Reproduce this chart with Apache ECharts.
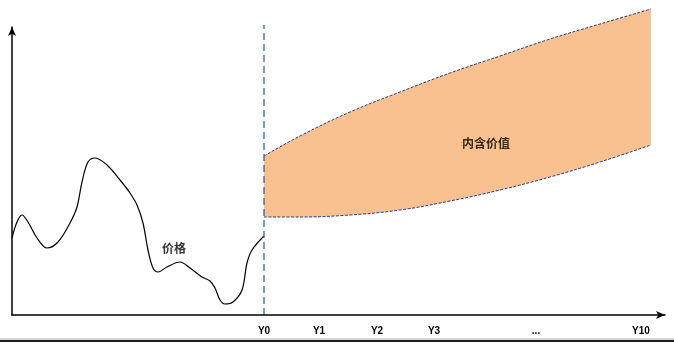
<!DOCTYPE html>
<html><head><meta charset="utf-8">
<script src="https://cdn.jsdelivr.net/npm/echarts@6/dist/echarts.min.js"></script>
<style>html,body{margin:0;padding:0;background:#fff}#c{width:674px;height:351px}</style>
</head><body><div id="c"></div>
<script>
// Price history (x, y) in abstract units
var priceX = [0,5,10,16,25,35,46,58,65,70,76,83,95,108,118,125,131,136,141,146,155,168,178,190,198,203,208,213,221,230,235,240,252];
var priceY = [77,93,100,93,77,67,73,92,108,133,153,157,150,135,122,110,92,65,47,43,48,53,47,38,34,27,15,11,13,25,52,65,79];
// Intrinsic value band
var bandX = [252,288,338,388,438,488,538,588,639];
var bandUpper = [159,179,203,223,242,259,276,291,306];
var bandLower = [98,98,100,105,114,125,138,153,170];
// Tick labels
var tickPos = [252,307,365,422,524,629];
var tickLabels = ['Y0','Y1','Y2','Y3','...','Y10'];
var y0Pos = 252;
var textLabels = [{name:'价格', x:162, y:67},{name:'内含价值', x:474, y:172}];

var pricePts = priceX.map(function(x,i){return [x, priceY[i]];});
var lowerPts = bandX.map(function(x,i){return [x, bandLower[i]];});
var upperPts = bandX.map(function(x,i){return [x, bandUpper[i]];});

var chart = echarts.init(document.getElementById('c'));
chart.setOption({
  animation:false,
  grid:{left:12,right:9,top:27,bottom:36},
  xAxis:{type:'value',min:0,max:653,splitLine:{show:false},z:10,
    axisLine:{show:true,lineStyle:{color:'#000',width:1.5},symbol:['none','arrow'],symbolSize:[6,9]},
    axisTick:{show:false},
    axisLabel:{show:true,customValues:tickPos,margin:11,fontSize:10,fontWeight:'bold',fontFamily:'Liberation Sans, Arial',color:'#000',
      formatter:function(v){var i=tickPos.indexOf(v);return i>=0?tickLabels[i]:'';}}},
  yAxis:{type:'value',min:0,max:288,splitLine:{show:false},z:10,
    axisLine:{show:true,onZero:false,lineStyle:{color:'#000',width:1.5},symbol:['none','arrow'],symbolSize:[6,9]},
    axisTick:{show:false},axisLabel:{show:false}},
  graphic:[
    {type:'line',shape:{x1:0,y1:339,x2:674,y2:339},style:{stroke:'#c8c8c8',lineWidth:1.5},silent:true},
    {type:'line',shape:{x1:0,y1:341,x2:674,y2:341},style:{stroke:'#1a1a1a',lineWidth:2},silent:true}
  ],
  series:[
    {type:'line',data:upperPts,smooth:0.4,symbol:'none',clip:false,
      lineStyle:{color:'#1f3f8f',width:1,type:[3,1.5]},areaStyle:{color:'#F9C18F',opacity:1},z:2},
    {type:'line',data:lowerPts,smooth:0.4,symbol:'none',clip:false,
      lineStyle:{color:'#1f3f8f',width:1,type:[3,1.5]},areaStyle:{color:'#ffffff',opacity:1},z:3},
    {type:'line',data:pricePts,smooth:0.35,symbol:'none',clip:false,
      lineStyle:{color:'#000',width:1.2},z:4},
    {type:'line',data:[[y0Pos,0],[y0Pos,290]],symbol:'none',clip:false,
      lineStyle:{color:'#1d55b4',width:1.2,type:[7,4]},z:5},
    {type:'scatter',symbolSize:0,clip:false,z:6,
      data:textLabels.map(function(t){return {name:t.name,value:[t.x,t.y]};}),
      label:{show:true,position:'inside',formatter:'{b}',fontSize:12,fontWeight:'bold',color:'#000',
        fontFamily:'Noto Sans CJK SC'}}
  ]
});
</script></body></html>
